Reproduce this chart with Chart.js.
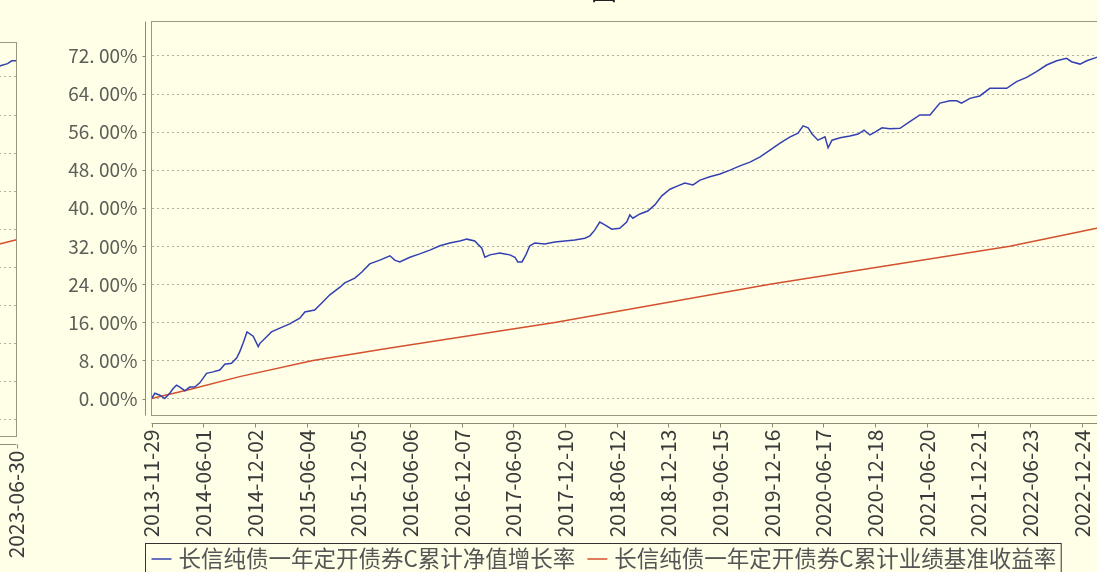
<!DOCTYPE html>
<html><head><meta charset="utf-8">
<script src="https://cdn.jsdelivr.net/npm/chart.js@4.4.0/dist/chart.umd.min.js"></script>
<style>
html,body{margin:0;padding:0;background:#FFFFE8;overflow:hidden;width:1097px;height:572px;}
#wrap{position:relative;width:1097px;height:572px;overflow:hidden;background:#FFFFE8;}
canvas{position:absolute;}
#main{left:0;top:-30px;}
#tail{left:-1118px;top:-9px;}
</style></head><body>
<div id="wrap"><canvas id="tail" width="1150" height="640"></canvas><canvas id="main" width="1150" height="640"></canvas></div>
<script>
// ---- data (x = calendar days since 2013-11-29) ----
const titleText = '图';
const seriesNames = ['长信纯债一年定开债券C累计净值增长率', '长信纯债一年定开债券C累计业绩基准收益率'];
const navDays = [0,12,30,47,65,77,89,101,119,136,154,172,196,219,243,261,285,303,314,326,336,340,362,380,386,410,427,457,492,528,546,581,600,635,671,688,724,749,777,813,849,866,884,920,955,991,1027,1062,1098,1123,1151,1176,1187,1205,1240,1258,1276,1294,1304,1319,1333,1347,1365,1400,1436,1472,1507,1543,1561,1578,1596,1614,1639,1667,1692,1703,1714,1739,1767,1792,1817,1846,1874,1899,1928,1953,1988,2024,2060,2095,2131,2167,2202,2238,2274,2302,2320,2338,2352,2373,2398,2409,2423,2452,2487,2516,2537,2558,2576,2601,2629,2665,2700,2736,2772,2807,2843,2867,2884,2914,2949,2985,3021,3045,3080,3116,3151,3187,3223,3258,3276,3306,3330,3365,3400,3440,3468,3483,3500];
const navGrowth = [0.0,1.1,0.7,0.0,1.1,2.1,2.8,2.4,1.6,2.4,2.4,3.3,5.3,5.6,6.0,7.2,7.4,8.5,9.8,11.6,13.3,14.0,13.1,10.9,11.6,13.0,14.0,14.8,15.7,16.9,18.2,18.6,19.7,21.8,23.4,24.3,25.3,26.6,28.3,29.1,30.0,29.1,28.7,29.7,30.4,31.2,32.1,32.7,33.1,33.5,33.1,31.6,29.7,30.2,30.6,30.4,30.2,29.7,28.7,28.7,30.2,32.1,32.7,32.5,32.9,33.1,33.3,33.7,34.2,35.4,37.1,36.5,35.6,35.8,37.1,38.6,37.9,38.8,39.4,40.7,42.6,44.0,44.7,45.3,44.9,45.9,46.6,47.2,48.0,48.9,49.7,50.8,52.2,53.7,55.0,55.8,57.3,56.9,55.6,54.3,55.0,52.7,54.3,54.8,55.2,55.6,56.4,55.4,56.0,56.9,56.7,56.8,58.2,59.6,59.6,62.1,62.6,62.6,62.1,63.1,63.6,65.2,65.2,65.2,66.6,67.5,68.7,70.1,71.0,71.5,70.8,70.3,71.0,71.7,72.6,74.3,74.8,75.4,75.4];
const benchDays = [0,136,314,575,849,1436,2202,3056,3365,3500];
const benchGrowth = [0,1.9,4.6,8.0,10.6,16.0,24.0,32.0,35.8,37.8];
const yTicks = [0,8,16,24,32,40,48,56,64,72];
const xTickDays = [0,184,368,552,736,920,1104,1288,1472,1656,1840,2024,2208,2392,2576,2760,2944,3128,3312,3500];
const xTickLabels = ['2013-11-29','2014-06-01','2014-12-02','2015-06-04','2015-12-05','2016-06-06','2016-12-07','2017-06-09','2017-12-10','2018-06-12','2018-12-13','2019-06-15','2019-12-16','2020-06-17','2020-12-18','2021-06-20','2021-12-21','2022-06-23','2022-12-24','2023-06-30'];

const FONT = '"Noto Sans CJK SC", "DejaVu Sans", sans-serif';
const AXIS_COLOR = '#8b8d73';
const FRAME_COLOR = '#979a80';

const decor = {
  id: 'decor',
  afterDraw(chart) {
    const ctx = chart.ctx, a = chart.chartArea;
    const xs = chart.scales.x, ys = chart.scales.y;
    ctx.save();
    ctx.strokeStyle = FRAME_COLOR; ctx.lineWidth = 1;
    ctx.strokeRect(a.left, a.top, a.right - a.left, a.bottom - a.top);
    ctx.strokeStyle = AXIS_COLOR;
    const ax = Math.round(a.left - 6) - 0.5;
    ctx.beginPath(); ctx.moveTo(ax, a.top); ctx.lineTo(ax, a.bottom); ctx.stroke();
    ys.ticks.forEach(t => {
      const py = Math.round(ys.getPixelForValue(t.value)) + 0.5;
      ctx.beginPath(); ctx.moveTo(ax - 3, py); ctx.lineTo(ax, py); ctx.stroke();
    });
    const ay = Math.round(a.bottom + 7) + 0.5;
    ctx.beginPath(); ctx.moveTo(a.left, ay); ctx.lineTo(a.right, ay); ctx.stroke();
    xs.ticks.forEach(t => {
      const px = Math.round(xs.getPixelForValue(t.value)) + 0.5;
      ctx.beginPath(); ctx.moveTo(px, ay); ctx.lineTo(px, ay + 4); ctx.stroke();
    });
    ctx.fillStyle = '#222';
    ctx.font = '26px ' + FONT;
    ctx.textAlign = 'center'; ctx.textBaseline = 'ideographic';
    ctx.fillText(titleText, 604, 33);
    ctx.font = '22.5px ' + FONT;
    ctx.textAlign = 'left'; ctx.textBaseline = 'middle';
    const bx = 145.5, by = 573.5, ly = 588;
    let x = bx + 6;
    chart.data.datasets.forEach((ds, i) => {
      ctx.strokeStyle = ds.borderColor; ctx.lineWidth = 1.5;
      ctx.beginPath(); ctx.moveTo(x, ly + 1); ctx.lineTo(x + 20, ly + 1); ctx.stroke();
      ctx.fillStyle = '#555';
      ctx.fillText(ds.label, x + 27, ly);
      x += 27 + ctx.measureText(ds.label).width + 12;
    });
    ctx.strokeStyle = '#333'; ctx.lineWidth = 1;
    ctx.strokeRect(bx, by, x - 12 + 5 - bx, 60);
    ctx.restore();
  }
};

function noPad(s) { s.paddingLeft = 0; s.paddingRight = 0; s.paddingTop = 0; s.paddingBottom = 0; }

function makeChart(id) {
  return new Chart(document.getElementById(id), {
    type: 'line',
    data: {
      datasets: [
        { label: seriesNames[0], data: navDays.map((d, i) => ({ x: d, y: navGrowth[i] })),
          borderColor: '#3341b0', borderWidth: 1.5, pointRadius: 0, tension: 0 },
        { label: seriesNames[1], data: benchDays.map((d, i) => ({ x: d, y: benchGrowth[i] })),
          borderColor: '#d4512e', borderWidth: 1.5, pointRadius: 0, tension: 0 }
      ]
    },
    options: {
      responsive: false, animation: false, devicePixelRatio: 1,
      layout: { padding: { top: 51.5, left: 0, right: 15.5, bottom: 0 } },
      plugins: { legend: { display: false }, title: { display: false }, tooltip: { enabled: false } },
      scales: {
        x: {
          type: 'linear', min: 0, max: 3500,
          afterFit: s => { s.height = 640 - 445.5; noPad(s); },
          afterBuildTicks: s => { s.ticks = xTickDays.map(v => ({ value: v })); },
          grid: { display: false, drawTicks: false },
          border: { display: false },
          ticks: { autoSkip: false, minRotation: 90, maxRotation: 90, padding: 14,
                   color: '#3a3a3a', font: { family: FONT, size: 21 },
                   callback: (v, i) => xTickLabels[i] }
        },
        y: {
          type: 'linear', min: -3.57, max: 79.25,
          afterFit: s => { s.width = 151.5; noPad(s); },
          afterBuildTicks: s => { s.ticks = yTicks.map(v => ({ value: v })); },
          grid: { display: true, drawTicks: false, color: 'rgba(150,150,135,0.75)', lineWidth: 1 },
          border: { display: false, dash: [2, 3] },
          ticks: { padding: 14, color: '#5e5e58', font: { family: FONT, size: 19 },
                   callback: v => v.toFixed(2).replace('.', '. ') + '%' }
        }
      }
    },
    plugins: [decor]
  });
}
makeChart('tail');
makeChart('main');
</script>
</body></html>
